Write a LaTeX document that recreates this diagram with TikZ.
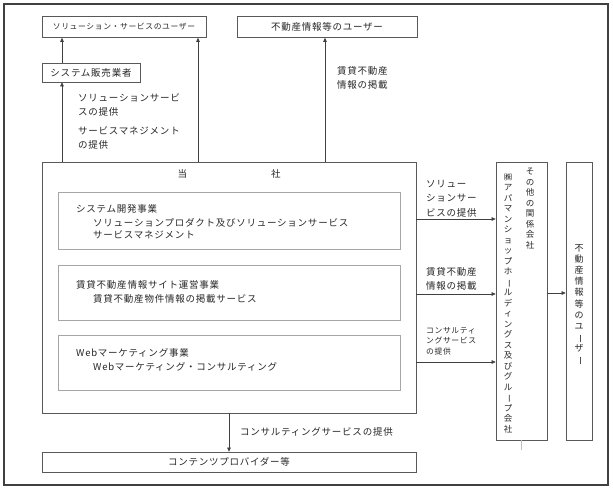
\documentclass[tikz,border=0pt]{standalone}
\usepackage{fontspec}
\usepackage{graphicx}
\setmainfont[LetterSpace=8]{Noto Sans CJK JP}
\usetikzlibrary{arrows.meta}
\newcommand{\tatebo}{\rotatebox[origin=c]{-90}{ー}}

\begin{document}
\begin{tikzpicture}[x=1pt,y=-1pt,
    box/.style={draw=black!65, line width=0.7pt, inner sep=0pt},
    subbox/.style={draw=black!35, line width=0.7pt, inner sep=0pt},
    arr/.style={draw=black!75, line width=0.6pt, -{Triangle[length=4pt,width=3.6pt]}},
    lbl/.style={inner sep=0pt, anchor=north west, align=left, font=\fontsize{9.5}{14.5}\selectfont},
    tate/.style={inner sep=0pt, anchor=north, align=center, font=\fontsize{8.5}{10.5}\selectfont}]
    \tikzstyle{every node}+=[text=black!85]
    \useasboundingbox (0,0) rectangle (613,489);
    \draw [black!75, line width=1.1pt] (4,4) rectangle (608,485);
    % top row
    \node [box, minimum width=164pt, minimum height=21pt, font=\fontsize{7.8}{10}\selectfont] (soluser) at (124,27) {ソリューション・サービスのユーザー};
    \node [box, minimum width=180pt, minimum height=21pt, font=\fontsize{9.5}{10}\selectfont] (reuser) at (327,27) {不動産情報等のユーザー};
    \node [box, minimum width=98pt, minimum height=19pt, font=\fontsize{9.5}{10}\selectfont] (seller) at (91,72.5) {システム販売業者};
    % company
    \node [box, minimum width=374pt, minimum height=251pt] (tosha) at (229,287.5) {};
    \node [inner sep=0pt, font=\fontsize{9.5}{10}\selectfont] (toshalbl) at (229,174) {当\hspace{84pt}社};
    \node [subbox, minimum width=342pt, minimum height=57pt] (sys) at (229,220.5) {};
    \node [lbl] at (76,204) {システム開発事業\\
        \hspace{17pt}ソリューションプロダクト及びソリューションサービス\\[-3pt]
        \hspace{17pt}サービスマネジメント};
    \node [subbox, minimum width=342pt, minimum height=55pt] (site) at (229,292.5) {};
    \node [lbl] at (76,280) {賃貸不動産情報サイト運営事業\\
        \hspace{17pt}賃貸不動産物件情報の掲載サービス};
    \node [subbox, minimum width=342pt, minimum height=55pt] (web) at (229,362.5) {};
    \node [lbl] at (76,348) {Webマーケティング事業\\
        \hspace{17pt}Webマーケティング・コンサルティング};
    \node [box, minimum width=374pt, minimum height=20pt, font=\fontsize{9.5}{10}\selectfont] (cp) at (229,462) {コンテンツプロバイダー等};
    % right side
    \node [box, minimum width=51pt, minimum height=278pt] (aff) at (521.5,301) {};
    \node [tate] at (530,168) {そ\\の\\他\\の\\関\\係\\会\\社};
    \node [tate] at (508,173) {㈱\\ア\\パ\\マ\\ン\\シ\\ョ\\ッ\\プ\\ホ\\\tatebo\\ル\\デ\\ィ\\ン\\グ\\ス\\及\\び\\グ\\ル\\\tatebo\\プ\\会\\社};
    \node [box, minimum width=26pt, minimum height=278pt] (aguser) at (579,301) {};
    \node [tate, font=\fontsize{9}{11.2}\selectfont] at (579,244) {不\\動\\産\\情\\報\\等\\の\\ユ\\\tatebo\\ザ\\\tatebo};
    \draw [black!25] (aff.south) -- ++(0,10);
    % arrows
    \draw [arr] (62,0 |- tosha.north) -- (62,0 |- seller.south);
    \draw [arr] (62,0 |- seller.north) -- (62,0 |- soluser.south);
    \draw [arr] (198,0 |- tosha.north) -- (198,0 |- soluser.south);
    \draw [arr] (325,0 |- tosha.north) -- (325,0 |- reuser.south);
    \draw [arr] (tosha.east |- 0,219) -- (aff.west |- 0,219);
    \draw [arr] (tosha.east |- 0,294) -- (aff.west |- 0,294);
    \draw [arr] (tosha.east |- 0,362) -- (aff.west |- 0,362);
    \draw [arr] (aff.east |- 0,293) -- (aguser.west |- 0,293);
    \draw [arr] (229,0 |- tosha.south) -- (229,0 |- cp.north);
    % labels
    \node [lbl] at (78,93) {ソリューションサービ\\スの提供};
    \node [lbl] at (78,126) {サービスマネジメント\\の提供};
    \node [lbl] at (337,66) {賃貸不動産\\情報の掲載};
    \node [lbl] at (426,180) {ソリュー\\ションサー\\ビスの提供};
    \node [lbl] at (426,267) {賃貸不動産\\情報の掲載};
    \node [lbl, font=\fontsize{7.8}{10.5}\selectfont] at (426,327) {コンサルティ\\ングサービス\\の提供};
    \node [lbl] at (240,427) {コンサルティングサービスの提供};
\end{tikzpicture}
\end{document}
